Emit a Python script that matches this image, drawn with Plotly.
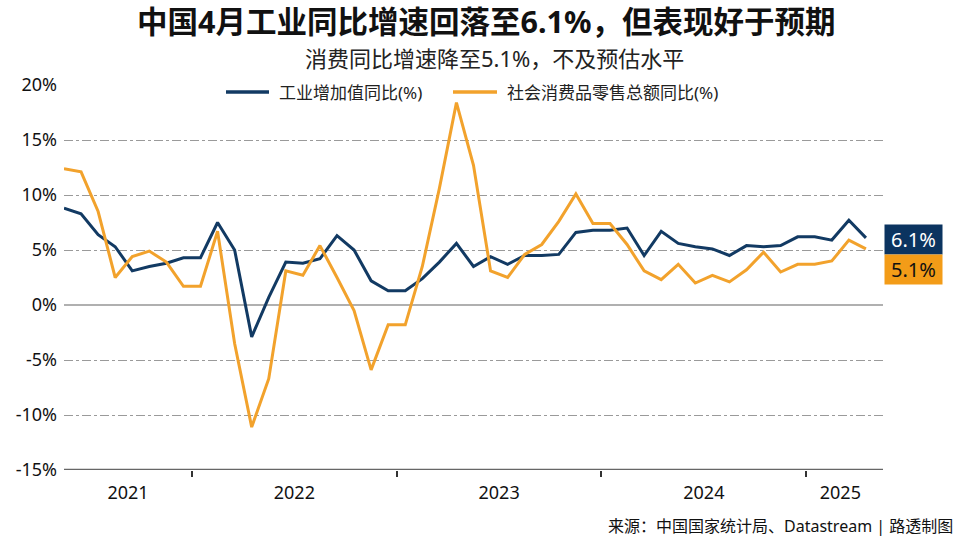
import plotly.graph_objects as go

# ---- data ----
months = [
    "2021-05", "2021-06", "2021-07", "2021-08", "2021-09", "2021-10", "2021-11", "2021-12",
    "2022-01", "2022-02", "2022-03", "2022-04", "2022-05", "2022-06", "2022-07", "2022-08",
    "2022-09", "2022-10", "2022-11", "2022-12",
    "2023-01", "2023-02", "2023-03", "2023-04", "2023-05", "2023-06", "2023-07", "2023-08",
    "2023-09", "2023-10", "2023-11", "2023-12",
    "2024-01", "2024-02", "2024-03", "2024-04", "2024-05", "2024-06", "2024-07", "2024-08",
    "2024-09", "2024-10", "2024-11", "2024-12",
    "2025-01", "2025-02", "2025-03", "2025-04",
]
industrial = [
    8.8, 8.3, 6.4, 5.3, 3.1, 3.5, 3.8, 4.3,
    4.3, 7.5, 5.0, -2.9, 0.7, 3.9, 3.8, 4.2, 6.3, 5.0, 2.2, 1.3,
    1.3, 2.4, 3.9, 5.6, 3.5, 4.4, 3.7, 4.5, 4.5, 4.6, 6.6, 6.8,
    6.8, 7.0, 4.5, 6.7, 5.6, 5.3, 5.1, 4.5, 5.4, 5.3, 5.4, 6.2,
    6.2, 5.9, 7.7, 6.1,
]
retail = [
    12.4, 12.1, 8.5, 2.5, 4.4, 4.9, 3.9, 1.7,
    1.7, 6.7, -3.5, -11.1, -6.7, 3.1, 2.7, 5.4, 2.5, -0.5, -5.9, -1.8,
    -1.8, 3.5, 10.6, 18.4, 12.7, 3.1, 2.5, 4.6, 5.5, 7.6, 10.1, 7.4,
    7.4, 5.5, 3.1, 2.3, 3.7, 2.0, 2.7, 2.1, 3.2, 4.8, 3.0, 3.7,
    3.7, 4.0, 5.9, 5.1,
]
y_ticks = [20, 15, 10, 5, 0, -5, -10, -15]
series_names = ["工业增加值同比(%)", "社会消费品零售总额同比(%)"]
title_text = "中国4月工业同比增速回落至6.1%，但表现好于预期"
subtitle_text = "消费同比增速降至5.1%，不及预估水平"
source_text = "来源：中国国家统计局、Datastream | 路透制图"

NAVY = "#123a63"
ORANGE = "#f2a22c"
FONT = "Noto Sans, Noto Sans CJK SC, sans-serif"

# plot area in pixels (figure 969x537)
PL, PR, PT, PB = 64, 883, 85, 470
PW, PH = PR - PL, PB - PT


def px_x(v):
    return (v - PL) / PW


def px_y(v):
    return (PB - v) / PH


x = list(range(len(months)))
x_max = len(months)

# year spans -> label centres and boundary ticks
years = []
for i, m in enumerate(months):
    yv = m[:4]
    if not years or years[-1][0] != yv:
        years.append([yv, i, i])
    else:
        years[-1][2] = i
year_labels, year_pos, boundaries = [], [], []
for yv, a, b in years:
    lo = max(a - 0.5, 0)
    hi = min(b + 0.5, x_max)
    year_labels.append(yv)
    year_pos.append((lo + hi) / 2)
    if b + 0.5 < x_max - 1:
        boundaries.append(b + 0.5)

colors = [NAVY, ORANGE]
fig = go.Figure()
for name, vals, col in zip(series_names, [industrial, retail], colors):
    fig.add_trace(go.Scatter(x=x, y=vals, mode="lines", name=name,
                             line=dict(color=col, width=3), customdata=months,
                             hovertemplate="%{customdata}: %{y}%<extra></extra>"))

fig.update_layout(
    width=969, height=537, autosize=False,
    margin=dict(l=PL, r=969 - PR, t=PT, b=537 - PB),
    plot_bgcolor="white", paper_bgcolor="white",
    font=dict(family=FONT, color="#111", size=17),
    showlegend=False,
)
fig.update_xaxes(
    range=[0, x_max], showgrid=False, zeroline=False,
    tickmode="array", tickvals=year_pos, ticktext=year_labels, ticks="",
    tickfont=dict(size=18, color="#111"), ticklabelstandoff=10,
    showline=False,
    minor=dict(tickmode="array", tickvals=boundaries, ticks="outside", ticklen=6,
               tickcolor="#333", tickwidth=1.5, showgrid=False),
)
fig.update_yaxes(
    range=[-15, 20], tickmode="array", tickvals=y_ticks,
    ticktext=[f"{v}%" for v in y_ticks], ticks="",
    tickfont=dict(size=18, color="#111"), ticklabelstandoff=6,
    showgrid=True, gridcolor="#9a9a9a", gridwidth=1, griddash="dashdot",
    zeroline=True, zerolinecolor="#b0b0b0", zerolinewidth=1.5,
    showline=False,
)
# bottom axis line at -15
fig.add_hline(y=-15, line=dict(color="#666", width=2.5), layer="above")

# legend (drawn manually for exact spacing)
legend_items = [(226, 269, 277), (453, 497, 505)]
for (x0, x1, tx), name, col in zip(legend_items, series_names, colors):
    fig.add_shape(type="line", xref="paper", yref="paper",
                  x0=px_x(x0), x1=px_x(x1), y0=px_y(92), y1=px_y(92),
                  line=dict(color=col, width=3.5))
    fig.add_annotation(text=name, xref="paper", yref="paper", x=px_x(tx), y=px_y(92),
                       xanchor="left", yanchor="middle", showarrow=False,
                       font=dict(size=17, color="#222"))

anns = [
    dict(text=f"<b>{title_text}</b>", x=486, y=21, font=dict(size=30.5, color="#111")),
    dict(text=subtitle_text, x=494, y=58, font=dict(size=22, color="#222")),
]
for a in anns:
    fig.add_annotation(text=a["text"], xref="paper", yref="paper",
                       x=px_x(a["x"]), y=px_y(a["y"]),
                       xanchor="center", yanchor="middle", showarrow=False, font=a["font"])
fig.add_annotation(text=source_text, xref="paper", yref="paper",
                   x=px_x(955), y=px_y(526), xanchor="right", yanchor="middle",
                   showarrow=False, font=dict(size=16, color="#111"))
# latest value tags
fig.add_annotation(text=f"{industrial[-1]}%", xref="paper", yref="paper",
                   x=px_x(913.5), y=px_y(239.5), xanchor="center", yanchor="middle",
                   showarrow=False, bgcolor="#0b3460", width=55, height=27, borderpad=1,
                   font=dict(size=20, color="white"))
fig.add_annotation(text=f"{retail[-1]}%", xref="paper", yref="paper",
                   x=px_x(913.5), y=px_y(269.5), xanchor="center", yanchor="middle",
                   showarrow=False, bgcolor="#f39c18", width=55, height=27, borderpad=1,
                   font=dict(size=20, color="#111"))

fig.write_html("out.html", config={"displayModeBar": False},
               post_script="document.body.style.margin='0';document.body.style.overflow='hidden';")
